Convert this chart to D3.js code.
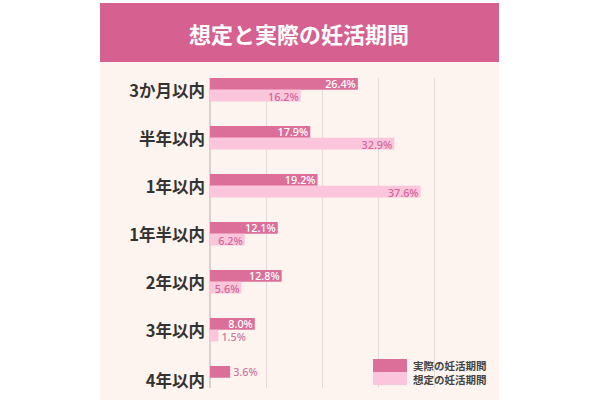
<!DOCTYPE html>
<html><head><meta charset="utf-8">
<script src="https://cdn.jsdelivr.net/npm/d3@7/dist/d3.min.js"></script>
<style>html,body{margin:0;padding:0;background:#fff;}svg{display:block;}</style>
</head><body>
<svg id="c" width="600" height="400"></svg>
<script>
const title = "想定と実際の妊活期間";
const categories = ["3か月以内","半年以内","1年以内","1年半以内","2年以内","3年以内","4年以内"];
const seriesNames = ["実際の妊活期間","想定の妊活期間"];
const actualValues = [26.4, 17.9, 19.2, 12.1, 12.8, 8.0, 3.6];
const expectedValues = [16.2, 32.9, 37.6, 6.2, 5.6, 1.5, null];
const gridTicks = [10, 20, 30, 40];

const colors = {dark:"#dc6f9a", light:"#fbc6dc", title:"#d6608f", bg:"#fdf4ef"};
const svg = d3.select("#c");
const font = "'Noto Sans CJK JP','Noto Sans',sans-serif";
const numFont = "'Noto Sans','Noto Sans CJK JP',sans-serif";

svg.append("rect").attr("x",100).attr("y",3).attr("width",399).attr("height",397).attr("fill",colors.bg);
svg.append("rect").attr("x",100).attr("y",3).attr("width",399).attr("height",59).attr("fill",colors.title);
svg.append("text").attr("x",299).attr("y",33).attr("text-anchor","middle").attr("dominant-baseline","central")
  .attr("fill","#fff").attr("font-family",font).attr("font-weight",700).attr("font-size",22).text(title);

const x = d3.scaleLinear().domain([0,50]).range([210,490]);
const y = d3.scaleBand().domain(categories).range([78, 389.5]).paddingInner(0.51).paddingOuter(0);
const ys = d3.scaleBand().domain([0,1]).range([0, y.bandwidth()]);

// grid
const grid = svg.append("g").attr("transform","translate(0,388)")
  .call(d3.axisBottom(x).tickValues(gridTicks).tickSize(-310).tickFormat(""));
grid.select(".domain").remove();
grid.selectAll(".tick line").attr("stroke","#e2dcda").attr("stroke-width",1);

svg.append("line").attr("x1",x(0)).attr("x2",x(0)).attr("y1",78).attr("y2",388)
  .attr("stroke","#b5aeae").attr("stroke-width",1);

const rows = categories.map((c,i)=>({c, vals:[actualValues[i], expectedValues[i]]}));
const g = svg.append("g");
rows.forEach(r=>{
  r.vals.forEach((v,si)=>{
    if (v==null) return;
    const yy = y(r.c)+ys(si);
    const h = ys.bandwidth();
    g.append("rect").attr("x",x(0)).attr("y",yy).attr("width",x(v)-x(0)).attr("height",h)
      .attr("fill", si===0?colors.dark:colors.light);
    const label = v.toFixed(1)+"%";
    const w = x(v)-x(0);
    const inside = w > 30;
    g.append("text").attr("x", inside? x(v)-2 : x(v)+3).attr("y", yy+h/2+(si===0?-0.3:1))
      .attr("text-anchor", inside?"end":"start").attr("dominant-baseline","central")
      .attr("font-family",numFont).attr("font-weight",500).attr("font-size",10.8)
      .attr("fill", inside ? (si===0?"#fff":"#d06699") : "#cc76a0").text(label);
  });
  svg.append("text").attr("x",205).attr("y", y(r.c)+y.bandwidth()/2+(r.c==="4年以内"?2:0))
    .attr("text-anchor","end").attr("dominant-baseline","central")
    .attr("font-family",font).attr("font-weight",700).attr("font-size",16.5).attr("fill","#333")
    .text(r.c);
});

// legend
const lg = svg.append("g");
seriesNames.forEach((n,i)=>{
  lg.append("rect").attr("x",373).attr("y",359+i*13).attr("width",34).attr("height",13)
    .attr("fill", i===0?colors.dark:colors.light);
  lg.append("text").attr("x",413).attr("y",365.5+i*14).attr("dominant-baseline","central")
    .attr("font-family",font).attr("font-weight",700).attr("font-size",10.5).attr("fill","#444").text(n);
});
</script>
</body></html>
